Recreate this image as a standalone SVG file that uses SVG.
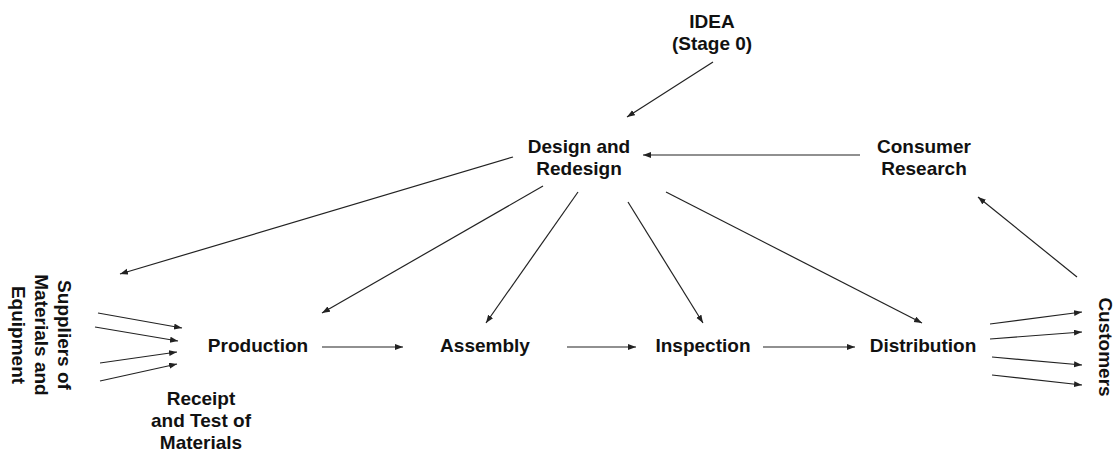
<svg xmlns="http://www.w3.org/2000/svg" width="1115" height="454" viewBox="0 0 1115 454">
<style>
.t{font-family:"Liberation Sans",Arial,sans-serif;font-weight:bold;font-size:19px;fill:#111;text-anchor:middle}
.c line{stroke:#222;stroke-width:1.2;marker-end:url(#ah)}
</style>
<defs>
<marker id="ah" markerUnits="userSpaceOnUse" markerWidth="9" markerHeight="7" refX="8" refY="3" orient="auto">
<path d="M0,0 L8,3 L0,6 z" fill="#222"/>
</marker>
</defs>
<rect width="1115" height="454" fill="#fff"/>
<g id="idea"><text class="t" x="712" y="28">IDEA</text><text class="t" x="712" y="50">(Stage 0)</text></g>
<g id="design"><text class="t" x="579" y="153">Design and</text><text class="t" x="579" y="175">Redesign</text></g>
<g id="consumer"><text class="t" x="924" y="153">Consumer</text><text class="t" x="924" y="175">Research</text></g>
<g id="suppliers" transform="translate(0,335) rotate(90)">
<text class="t" x="0" y="-58">Suppliers of</text>
<text class="t" x="0" y="-35">Materials and</text>
<text class="t" x="0" y="-12">Equipment</text>
</g>
<g id="production"><text class="t" x="258" y="352">Production</text></g>
<g id="assembly"><text class="t" x="485" y="352">Assembly</text></g>
<g id="inspection"><text class="t" x="703" y="352">Inspection</text></g>
<g id="distribution"><text class="t" x="923" y="352">Distribution</text></g>
<g id="receipt"><text class="t" x="201" y="405">Receipt</text><text class="t" x="201" y="427">and Test of</text><text class="t" x="201" y="449">Materials</text></g>
<g id="customers" transform="translate(1099,347) rotate(90)"><text class="t" x="0" y="0">Customers</text></g>
<g class="c" id="connectors">
<line x1="713" y1="62" x2="627" y2="117"/>
<line x1="860" y1="155" x2="643" y2="155"/>
<line x1="1077" y1="277" x2="978" y2="197"/>
<line x1="513" y1="157" x2="120" y2="274"/>
<line x1="543" y1="186" x2="322" y2="313"/>
<line x1="578" y1="192" x2="486" y2="323"/>
<line x1="628" y1="202" x2="703" y2="323"/>
<line x1="666" y1="192" x2="922" y2="323"/>
<line x1="322" y1="347" x2="403" y2="347"/>
<line x1="567" y1="347" x2="636" y2="347"/>
<line x1="763" y1="347" x2="855" y2="347"/>
<line x1="98" y1="313" x2="182" y2="328"/>
<line x1="95" y1="327" x2="178" y2="341"/>
<line x1="100" y1="363" x2="177" y2="352"/>
<line x1="100" y1="381" x2="177" y2="364"/>
<line x1="990" y1="324" x2="1082" y2="312"/>
<line x1="990" y1="339" x2="1082" y2="332"/>
<line x1="992" y1="357" x2="1082" y2="365"/>
<line x1="992" y1="375" x2="1082" y2="385"/>
</g>
</svg>
